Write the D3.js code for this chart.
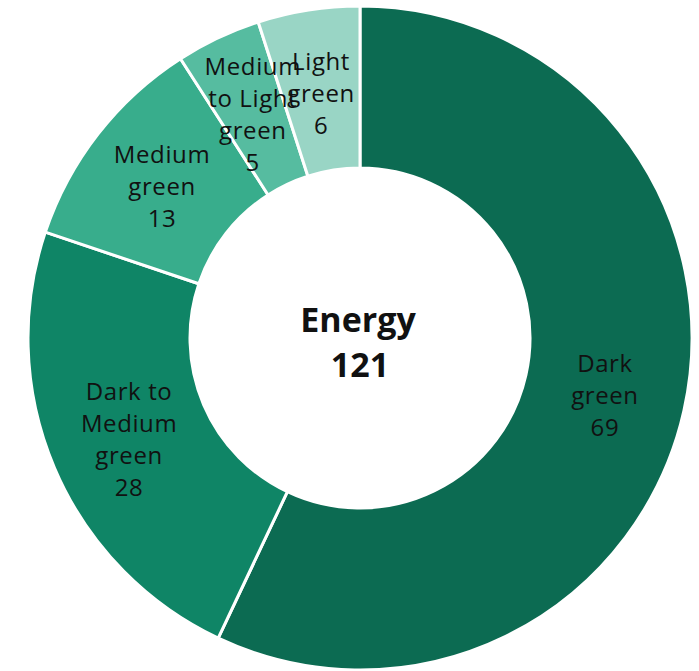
<!DOCTYPE html>
<html>
<head>
<meta charset="utf-8">
<script src="https://cdn.jsdelivr.net/npm/d3@7/dist/d3.min.js"></script>
<style>
  html, body { margin: 0; padding: 0; background: #fff; }
  svg { display: block; }
  text { font-family: "Open Sans", "Noto Sans", sans-serif; }
</style>
</head>
<body>
<svg id="chart" width="699" height="671"></svg>
<script>
// Donut segments, clockwise from 12 o'clock
const categories = ["Dark green", "Dark to Medium green", "Medium green", "Medium to Light green", "Light green"];
const labelLines = [["Dark", "green"], ["Dark to", "Medium", "green"], ["Medium", "green"], ["Medium", "to Light", "green"], ["Light", "green"]];
const values = [69, 28, 13, 5, 6];
const colors = ["#0c6b52", "#0f8566", "#38ad8c", "#56bca0", "#99d5c5"];
const centerTitle = "Energy";
const centerTotal = d3.sum(values);

const cx = 360, cy = 338;
const outerR = 332, innerR = 170;

const svg = d3.select("#chart");
const g = svg.append("g").attr("transform", `translate(${cx},${cy})`);

const pie = d3.pie().sort(null).value(d => d.value);
const arc = d3.arc().innerRadius(innerR).outerRadius(outerR);
const midR = (innerR + outerR) / 2;
const labelArc = d3.arc().innerRadius(midR).outerRadius(midR);

const data = categories.map((c, i) => ({ name: c, value: values[i], lines: labelLines[i], color: colors[i] }));
const arcs = pie(data);

g.selectAll("path.slice")
  .data(arcs)
  .join("path")
  .attr("class", "slice")
  .attr("d", arc)
  .attr("fill", d => d.data.color)
  .attr("stroke", "#fff")
  .attr("stroke-width", 3)
  .attr("stroke-linejoin", "miter");

// Multi-line slice labels: name lines followed by the value, centred on the arc centroid
const fontSize = 24, lineH = 32;
const labels = g.selectAll("text.lbl")
  .data(arcs)
  .join("text")
  .attr("class", "lbl")
  .attr("text-anchor", "middle")
  .attr("font-size", fontSize)
  .attr("letter-spacing", 0.6)
  .attr("fill", "#111")
  .attr("transform", d => `translate(${labelArc.centroid(d)})`);

labels.each(function(d) {
  const lines = d.data.lines.concat([String(d.data.value)]);
  const n = lines.length;
  const t = d3.select(this);
  lines.forEach((ln, i) => {
    t.append("tspan")
      .attr("x", 0)
      .attr("y", (i - (n - 1) / 2) * lineH)
      .attr("dy", "0.48em")
      .text(ln);
  });
});

// Centre title and total
const center = g.append("text")
  .attr("text-anchor", "middle")
  .attr("font-size", 34)
  .attr("font-weight", 700)
  .attr("fill", "#111");
center.append("tspan").attr("x", -2).attr("y", -6).text(centerTitle);
center.append("tspan").attr("x", 0).attr("y", 39).text(centerTotal);
</script>
</body>
</html>
